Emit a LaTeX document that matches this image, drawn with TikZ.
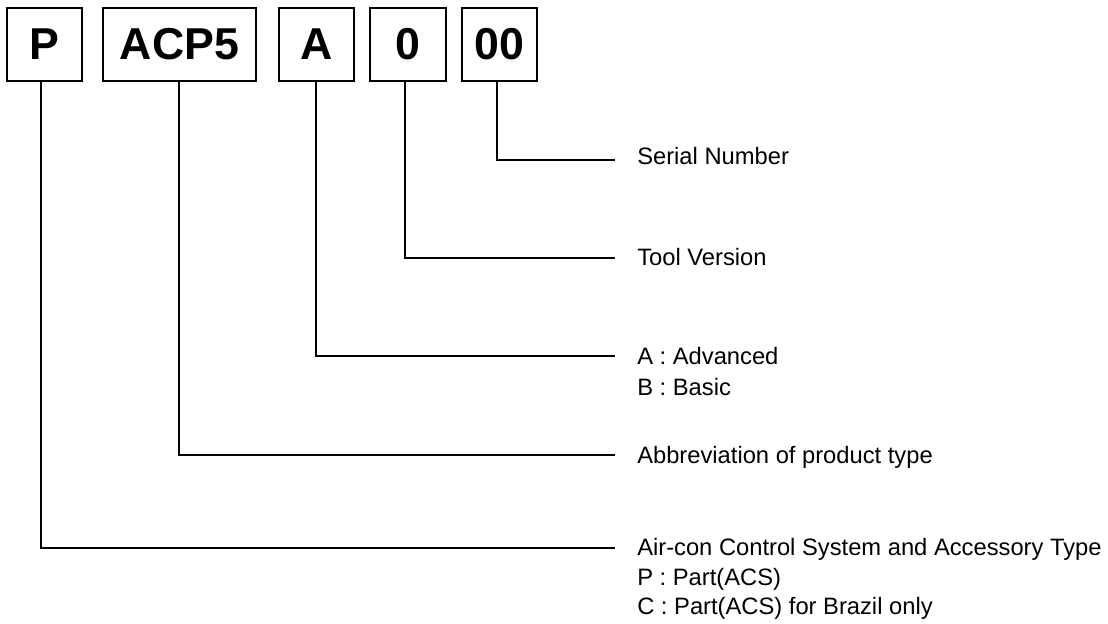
\documentclass[tikz,border=0pt]{standalone}
\usepackage{fontspec}
\setmainfont{Liberation Sans}
\begin{document}
\begin{tikzpicture}[x=0.75pt,y=-0.75pt,
  codebox/.style={draw, line width=2.2pt, inner sep=0pt, minimum height=54.75pt,
    font=\fontsize{33.5}{33.5}\selectfont\bfseries},
  lbl/.style={anchor=base west, inner sep=0pt, font=\fontsize{17.8}{23}\selectfont},
  conn/.style={line width=1.15pt}]
\useasboundingbox (0,0) rectangle (1108,624);
% code boxes
\node[codebox, minimum width=56.25pt] (bP) at (44.5,44.5) {P};
\node[codebox, minimum width=114.75pt] (bACP) at (179.5,44.5) {ACP5};
\node[codebox, minimum width=56.25pt] (bA) at (316.5,44.5) {A};
\node[codebox, minimum width=57pt] (b0) at (408,44.5) {0};
\node[codebox, minimum width=56.25pt] (b00) at (499.5,44.5) {00};
% labels
\node[lbl] (tSer) at (637,165) {Serial Number};
\node[lbl] (tTool) at (637,266) {Tool Version};
\node[lbl] (tA1) at (637,364) {A : Advanced};
\node[lbl] (tA2) at (637,395) {B : Basic};
\node[lbl] (tAbb) at (637,463) {Abbreviation of product type};
\node[lbl] (tAir1) at (637,555) {Air-con Control System and Accessory Type};
\node[lbl] (tAir2) at (637,585) {P : Part(ACS)};
\node[lbl] (tAir3) at (637,614) {C : Part(ACS) for Brazil only};
% connector ends
\coordinate (eSer) at (615,160);
\coordinate (eTool) at (615,258);
\coordinate (eA) at (615,356);
\coordinate (eAbb) at (615,455);
\coordinate (eAir) at (615,548);
% connectors
\draw[conn] (bP.south -| 41,0) |- (eAir);
\draw[conn] (bACP.south -| 179,0) |- (eAbb);
\draw[conn] (bA.south -| 316,0) |- (eA);
\draw[conn] (b0.south -| 405,0) |- (eTool);
\draw[conn] (b00.south -| 497,0) |- (eSer);
\end{tikzpicture}
\end{document}
